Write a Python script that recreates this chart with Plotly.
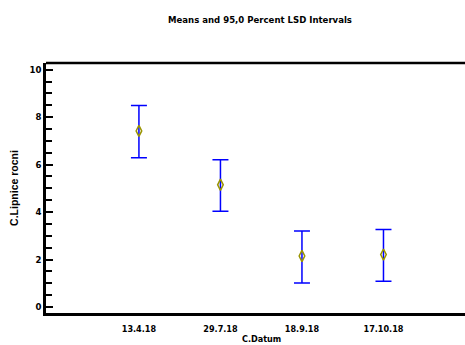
import plotly.graph_objects as go

categories = ["13.4.18", "29.7.18", "18.9.18", "17.10.18"]
means = [7.42, 5.15, 2.15, 2.21]
upper = [8.49, 6.21, 3.20, 3.27]
lower = [6.29, 4.04, 1.01, 1.09]

err_plus = [u - m for u, m in zip(upper, means)]
err_minus = [m - l for m, l in zip(means, lower)]

FONT = "DejaVu Sans Condensed"

fig = go.Figure()
fig.add_trace(go.Scatter(
    x=list(range(len(categories))), y=means, mode="markers",
    marker=dict(symbol="diamond-tall-open", size=8, color="#9a9400",
                line=dict(width=1.5, color="#9a9400")),
    error_y=dict(type="data", symmetric=False, array=err_plus, arrayminus=err_minus,
                 color="#0000ff", thickness=1.5, width=8),
    showlegend=False,
))

fig.update_layout(
    width=465, height=345,
    margin=dict(l=46, r=0, t=63, b=32),
    paper_bgcolor="white", plot_bgcolor="white",
    font=dict(family=FONT, size=9, color="black"),
    title=dict(text="<b>Means and 95,0 Percent LSD Intervals</b>", x=260/465, xanchor="center",
               y=1 - 20/345, yanchor="middle", xref="container",
               font=dict(family=FONT, size=9.5, color="black")),
    xaxis=dict(
        automargin=False,
        range=[-1.14, 4.0], tickmode="array", tickvals=list(range(len(categories))),
        ticktext=[f"<b>{c}</b>" for c in categories],
        showline=True, linecolor="black", linewidth=2.5, mirror=False,
        showgrid=False, zeroline=False, ticks="outside", ticklen=5,
        tickcolor="rgba(0,0,0,0)", tickfont=dict(family=FONT, size=9),
    ),
    yaxis=dict(
        automargin=False,
        range=[-0.25, 10.28], tickmode="array", tickvals=[0, 2, 4, 6, 8, 10],
        ticktext=["<b>0</b>", "<b>2</b>", "<b>4</b>", "<b>6</b>", "<b>8</b>", "<b>10</b>"],
        showline=True, linecolor="black", linewidth=2.5, mirror=False,
        showgrid=False, zeroline=False, ticks="inside", ticklen=7, tickwidth=2,
        tickcolor="black", tickfont=dict(family=FONT, size=9.5),
        minor=dict(dtick=0.5, ticks="inside", ticklen=6, tickwidth=2, tickcolor="black", showgrid=False),
        title=dict(text="<b>C.Lipnice rocni</b>", standoff=9, font=dict(family="Liberation Sans", size=10.5)),
    ),
    shapes=[dict(type="line", xref="paper", yref="paper", x0=0, x1=1, y0=1, y1=1,
                 line=dict(color="black", width=2.5), layer="above")],
)
fig.add_annotation(text="<b>C.Datum</b>", xref="paper", yref="paper",
                   x=(261 - 46) / (465 - 46), y=-(339 - 313) / (313 - 63),
                   xanchor="center", yanchor="middle", showarrow=False,
                   font=dict(family=FONT, size=9, color="black"))

fig.write_html("out.html", config={"displayModeBar": False},
               post_script="document.body.style.margin='0';document.body.style.padding='0';")
